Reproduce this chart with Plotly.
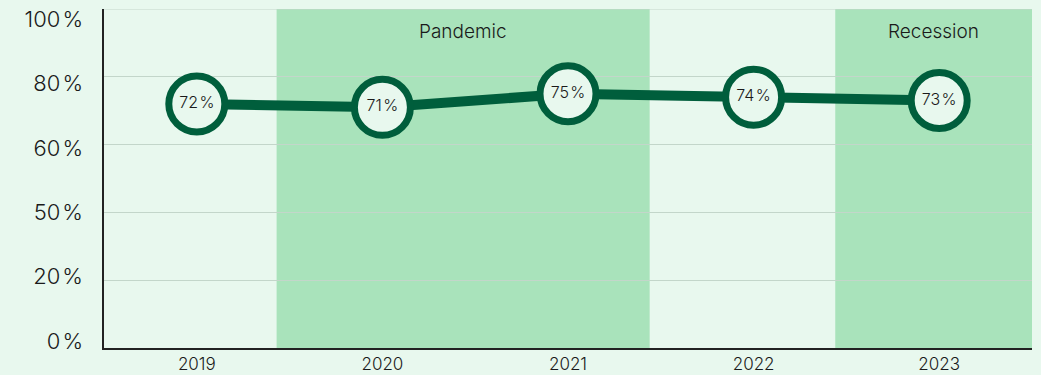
import plotly.graph_objects as go

# Survey share by year
years = ["2019", "2020", "2021", "2022", "2023"]
share = [72, 71, 75, 74, 73]

# Y axis ticks
y_tickvals = [0, 20, 40, 60, 80, 100]
y_ticktext = ["0\u200a%", "20\u200a%", "50\u200a%", "60\u200a%", "80\u200a%", "100\u200a%"]

# Highlighted periods: (label, start, end) in category units
periods = [("Pandemic", 0.43, 2.44), ("Recession", 3.44, 4.5)]

BG = "#E8F8EE"
BAND = "#A9E3BB"
DARK = "#005E3C"
GRID = "#C3D6CA"
TEXT = "#1a1a1a"
FONT = "Inter, Roboto, Arial, sans-serif"
WEIGHT = 300

fig = go.Figure()

# transparent trace that carries the tick-label axis (y2)
fig.add_trace(go.Scatter(x=years, y=share, yaxis="y2", mode="markers",
                         marker=dict(opacity=0, size=1),
                         hoverinfo="skip", showlegend=False))

fig.add_trace(go.Scatter(
    x=years,
    y=share,
    mode="lines+markers+text",
    line=dict(color=DARK, width=10),
    marker=dict(size=56, color=BG, line=dict(color=DARK, width=7)),
    text=[f"{v}\u200a%" for v in share],
    textposition="middle center",
    textfont=dict(size=16, color=TEXT, family=FONT, weight=WEIGHT),
    cliponaxis=False,
    hoverinfo="skip",
))

for label, x0, x1 in periods:
    fig.add_shape(type="rect", xref="x", yref="paper", x0=x0, x1=x1, y0=0, y1=1,
                  fillcolor=BAND, line=dict(width=0), layer="below")
    fig.add_annotation(x=(x0 + x1) / 2, xref="x", y=0.935, yref="paper",
                       yanchor="middle",
                       text=label, showarrow=False,
                       font=dict(size=19, color=TEXT, family=FONT, weight=WEIGHT))

# top gridline at 100
fig.add_shape(type="line", xref="paper", yref="y", x0=0, x1=1, y0=100, y1=100,
              line=dict(color=GRID, width=1), layer="below")

fig.update_layout(
    width=1041, height=375,
    margin=dict(l=104, r=9, t=6, b=27),
    paper_bgcolor=BG,
    plot_bgcolor=BG,
    showlegend=False,
    font=dict(family=FONT, color=TEXT, weight=WEIGHT),
    xaxis=dict(
        type="category",
        range=[-0.5, 4.5],
        showgrid=False,
        showline=True, linecolor="#222", linewidth=1.5,
        ticks="", tickfont=dict(size=17, color=TEXT, weight=WEIGHT),
        ticklabelstandoff=0,
        automargin=False,
        fixedrange=True,
    ),
    yaxis=dict(
        range=[0, 100],
        tickvals=y_tickvals,
        showticklabels=False,
        showgrid=True, gridcolor=GRID, gridwidth=1,
        showline=True, linecolor="#222", linewidth=1.5,
        zeroline=False, ticks="",
        automargin=False, fixedrange=True,
    ),
    yaxis2=dict(
        overlaying="y", side="left",
        range=[-2.16, 103.23],
        tickmode="array",
        tickvals=y_tickvals, ticktext=y_ticktext,
        showgrid=False, showline=False, zeroline=False,
        showticklabels=True,
        ticks="", tickfont=dict(size=22, color=TEXT, weight=WEIGHT),
        ticklabelstandoff=20,
        fixedrange=True,
    ),
)

fig.write_html("out.html")
